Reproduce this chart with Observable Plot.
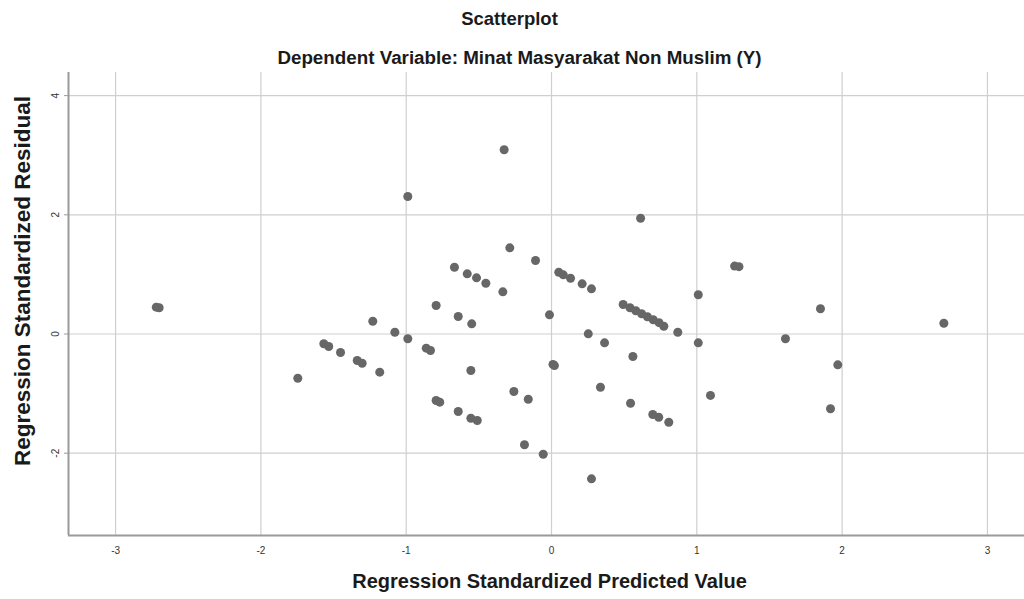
<!DOCTYPE html>
<html>
<head>
<meta charset="utf-8">
<script src="https://cdn.jsdelivr.net/npm/d3@7"></script>
<script src="https://cdn.jsdelivr.net/npm/@observablehq/plot@0.6"></script>
<style>
  html, body { margin: 0; padding: 0; background: #fff; }
  #chart svg { display: block; }
</style>
</head>
<body>
<div id="chart"></div>
<script>
const titleText = "Scatterplot";
const subtitleText = "Dependent Variable: Minat Masyarakat Non Muslim (Y)";
const xLabel = "Regression Standardized Predicted Value";
const yLabel = "Regression Standardized Residual";
const xTicks = [-3, -2, -1, 0, 1, 2, 3];
const yTicks = [-2, 0, 2, 4];

// Regression Standardized Predicted Value
const predicted = [
  -2.72, -2.70, -1.746, -1.567, -1.533, -1.452, -1.337, -1.303, -1.182, -1.230,
  -1.078, -0.989, -0.862, -0.833, -0.794, -0.642, -0.549, -0.335, -0.014, 0.010,
  0.020, -0.555, -0.794, -0.769, -0.642, -0.555, -0.511, -0.259, -0.160, -0.186,
  -0.057, -0.989, -0.326, 0.613, -0.287, -0.110, -0.668, -0.580, -0.516, -0.452,
  0.050, 0.081, 0.131, 0.211, 0.275, 0.493, 0.540, 0.580, 0.620, 0.660,
  0.700, 0.740, 0.773, 1.260, 1.290, 1.010, 0.869, 0.365, 1.010, 0.560,
  1.610, 1.851, 1.970, 0.337, 1.094, 0.544, 0.697, 0.738, 0.807, 1.920,
  2.700, 0.253, 0.275
];
// Regression Standardized Residual
const residual = [
  0.45, 0.44, -0.742, -0.164, -0.21, -0.31, -0.445, -0.49, -0.64, 0.215,
  0.03, -0.08, -0.238, -0.277, 0.478, 0.294, 0.171, 0.708, 0.322, -0.51,
  -0.53, -0.612, -1.116, -1.144, -1.30, -1.413, -1.451, -0.965, -1.094, -1.859,
  -2.017, 2.307, 3.091, 1.943, 1.446, 1.233, 1.121, 1.01, 0.943, 0.852,
  1.037, 0.993, 0.936, 0.842, 0.758, 0.495, 0.44, 0.39, 0.34, 0.29,
  0.24, 0.19, 0.13, 1.14, 1.13, 0.658, 0.03, -0.148, -0.148, -0.378,
  -0.08, 0.423, -0.517, -0.893, -1.03, -1.161, -1.351, -1.396, -1.48, -1.255,
  0.181, 0.003, -2.43
];

const data = predicted.map((x, i) => ({x, y: residual[i]}));

const xDomain = [-3.324, 3.255];
const yDomain = [-3.381, 4.388];

const font = "'Liberation Sans', Arial, sans-serif";

const plot = Plot.plot({
  width: 1024,
  height: 599,
  marginTop: 72,
  marginLeft: 68,
  marginRight: 0,
  marginBottom: 64,
  style: { fontFamily: font, background: "#fff", overflow: "visible" },
  x: { domain: xDomain, ticks: xTicks },
  y: { domain: yDomain, ticks: yTicks },
  marks: [
    Plot.ruleX(xTicks, { stroke: "#cfcfcf", strokeWidth: 1.2 }),
    Plot.ruleY(yTicks, { stroke: "#cfcfcf", strokeWidth: 1.2 }),
    Plot.ruleX([xDomain[0]], { stroke: "#9a9a9a", strokeWidth: 2 }),
    Plot.ruleY([yDomain[0]], { stroke: "#9a9a9a", strokeWidth: 2 }),
    Plot.axisX({ ticks: xTicks, tickSize: 0, tickPadding: 11, fontSize: 10, fill: "#333", label: null, tickFormat: d => String(d).replace("\u2212", "-") }),
    Plot.axisY({ ticks: yTicks, tickSize: 4, tickPadding: 6, tickRotate: -90, fontSize: 10, fill: "#333", stroke: "#9a9a9a", label: null, tickFormat: d => String(d) }),
    Plot.dot(data, { x: "x", y: "y", r: 4.5, fill: "#676767", stroke: "none" }),
    Plot.text([titleText], { frameAnchor: "top", dx: -37, dy: -61, fontSize: 18.5, fontWeight: "bold", fill: "#1a1a1a" }),
    Plot.text([subtitleText], { frameAnchor: "top", dx: -27, dy: -22, fontSize: 18.8, fontWeight: "bold", fill: "#1a1a1a" }),
    Plot.text([xLabel], { frameAnchor: "bottom", dx: 3, dy: 52, fontSize: 20, fontWeight: "bold", fill: "#1a1a1a" }),
    Plot.text([yLabel], { frameAnchor: "left", textAnchor: "middle", dx: -46, dy: -23, rotate: -90, fontSize: 22.5, fontWeight: "bold", fill: "#1a1a1a" })
  ]
});

document.getElementById("chart").appendChild(plot);
</script>
</body>
</html>
